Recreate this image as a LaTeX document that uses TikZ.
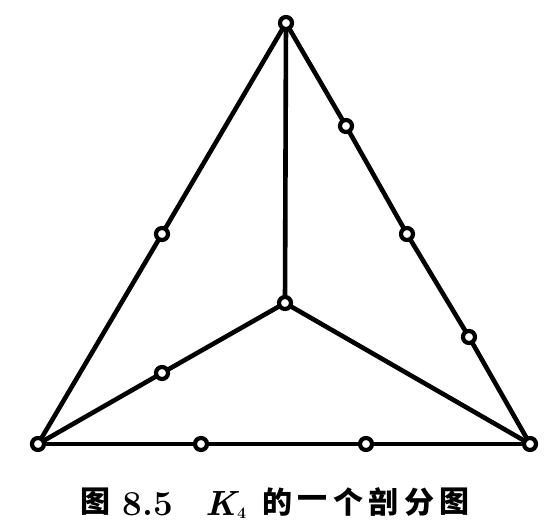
\documentclass[tikz,border=0pt]{standalone}
\usepackage{fontspec}
\newfontfamily\cjk{Noto Sans CJK SC}
\begin{document}
\begin{tikzpicture}[x=1pt,y=-1pt,
  vtx/.style={circle,draw,fill=white,inner sep=0pt,minimum size=12pt,line width=4.2pt},
  edge/.style={line width=4.6pt,line cap=round},
  cj/.style={inner sep=0pt,font=\cjk\bfseries\fontsize{30}{34}\selectfont},
  lat/.style={inner sep=0pt,font=\fontsize{35}{40}\selectfont}]
\useasboundingbox (0,0) rectangle (558,528);
\coordinate (T) at (286,23);
\coordinate (BL) at (38,444);
\coordinate (BR) at (530,444);
\coordinate (C) at (285,303);
\coordinate (L1) at (162,234);
\coordinate (R1) at (346,126);
\coordinate (R2) at (407,234);
\coordinate (R3) at (469,337);
\coordinate (C1) at (162,373);
\coordinate (B1) at (201,444);
\coordinate (B2) at (366,444);
\draw[edge] (T) -- (L1) -- (BL);
\draw[edge] (T) -- (R1) -- (R2) -- (R3) -- (BR);
\draw[edge] (T) -- (C);
\draw[edge] (C) -- (C1) -- (BL);
\draw[edge] (C) -- (BR);
\draw[edge] (BL) -- (B1) -- (B2) -- (BR);
\foreach \p in {T,BL,BR,C,L1,R1,R2,R3,C1,B1,B2}
  \node[vtx] (n\p) at (\p) {};
\node[cj] (c1) at (96,502) {图};
\node[lat,anchor=base] (c2) at (148,515) {\bfseries 8.5};
\node[lat,anchor=base] (c3) at (226,515) {\bfseries\itshape K\upshape\raisebox{-3pt}{\fontsize{16}{18}\selectfont 4}};
\node[cj] (c4) at (277,502) {的};
\node[cj] (c5) at (312,502) {一};
\node[cj] (c6) at (348,502) {个};
\node[cj] (c7) at (383,502) {剖};
\node[cj] (c8) at (419,502) {分};
\node[cj] (c9) at (454,502) {图};
\end{tikzpicture}
\end{document}
